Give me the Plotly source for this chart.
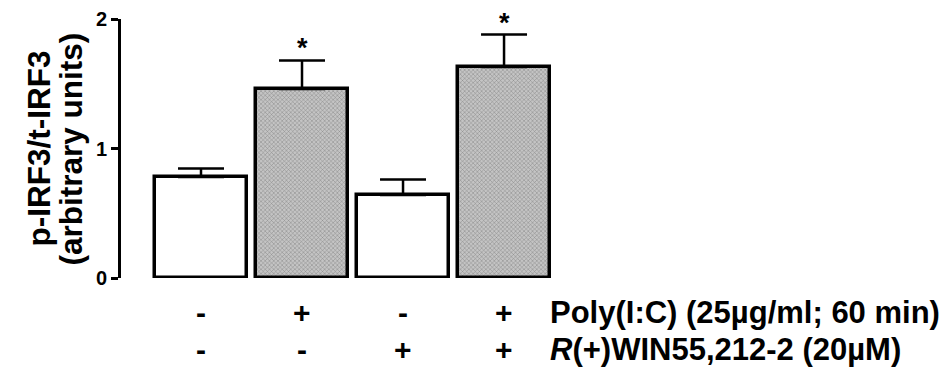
import plotly.graph_objects as go

groups = ["ctrl", "polyIC", "WIN", "polyIC+WIN"]
means = [0.78, 1.46, 0.64, 1.63]
sems = [0.065, 0.22, 0.12, 0.25]
polyic_signs = ["-", "+", "-", "+"]
win_signs = ["-", "-", "+", "+"]
significant = [False, True, False, True]
ytick_vals = [0, 1, 2]
ytick_text = ["0", "1", "2"]

FONT = "Liberation Sans, Arial, sans-serif"
xpos = list(range(len(groups)))

fig = go.Figure()
fig.add_trace(go.Bar(
    x=xpos, y=means, width=0.91,
    marker=dict(
        color=["white", "#c4c4c4", "white", "#c4c4c4"],
        line=dict(color="black", width=3.5),
        pattern=dict(shape=["", "x", "", "x"], size=3, solidity=0.3,
                     fgcolor="#909090", bgcolor="#cdcdcd", fillmode="overlay"),
    ),
    error_y=dict(type="data", array=sems, arrayminus=[0] * len(sems), symmetric=False,
                 thickness=2.5, width=23, color="black"),
    showlegend=False, hoverinfo="skip",
))

ann = []
for i, (m, s, sig) in enumerate(zip(means, sems, significant)):
    if sig:
        ann.append(dict(x=xpos[i], y=m + s, xref="x", yref="y", text="*", showarrow=False,
                        yanchor="middle", yshift=12, font=dict(family=FONT, size=27, color="black", weight="bold")))
for i, (a, b) in enumerate(zip(polyic_signs, win_signs)):
    ann.append(dict(x=xpos[i], y=0, xref="x", yref="paper", text=a, showarrow=False,
                    yanchor="middle", yshift=-34, font=dict(family=FONT, size=30, color="black", weight="bold")))
    ann.append(dict(x=xpos[i], y=0, xref="x", yref="paper", text=b, showarrow=False,
                    yanchor="middle", yshift=-71, font=dict(family=FONT, size=30, color="black", weight="bold")))
ann.append(dict(x=0.9727, y=0, xref="paper", yref="paper", text="Poly(I:C) (25µg/ml; 60 min)",
                showarrow=False, xanchor="left", yanchor="middle", yshift=-34,
                font=dict(family=FONT, size=31, color="black", weight="bold")))
ann.append(dict(x=0.9727, y=0, xref="paper", yref="paper", text="<i>R</i>(+)WIN55,212-2 (20µM)",
                showarrow=False, xanchor="left", yanchor="middle", yshift=-71,
                font=dict(family=FONT, size=31, color="black", weight="bold")))
ann.append(dict(x=-0.189, y=0.5, xref="paper", yref="paper", text="p-IRF3/t-IRF3", textangle=-90,
                showarrow=False, xanchor="center", yanchor="middle",
                font=dict(family=FONT, size=31.5, color="black", weight="bold")))
ann.append(dict(x=-0.114, y=0.5, xref="paper", yref="paper", text="(arbitrary units)", textangle=-90,
                showarrow=False, xanchor="center", yanchor="middle",
                font=dict(family=FONT, size=31.5, color="black", weight="bold")))

fig.update_layout(
    width=952, height=373,
    margin=dict(l=121, r=392, t=19, b=95),
    paper_bgcolor="white", plot_bgcolor="white",
    bargap=0,
    xaxis=dict(range=[-0.792, 3.554], visible=False, fixedrange=True),
    yaxis=dict(range=[0, 2], tickvals=ytick_vals, ticktext=ytick_text, showline=True,
               linecolor="black", linewidth=3, ticks="outside", ticklen=7, tickwidth=3,
               tickcolor="black", showgrid=False, zeroline=False, automargin=False,
               fixedrange=True,
               tickfont=dict(family=FONT, size=20, color="black", weight="bold")),
    annotations=ann,
)
fig.write_html("out.html", config={"displayModeBar": False},
               post_script="document.body.style.margin='0px';document.body.style.overflow='hidden';")
